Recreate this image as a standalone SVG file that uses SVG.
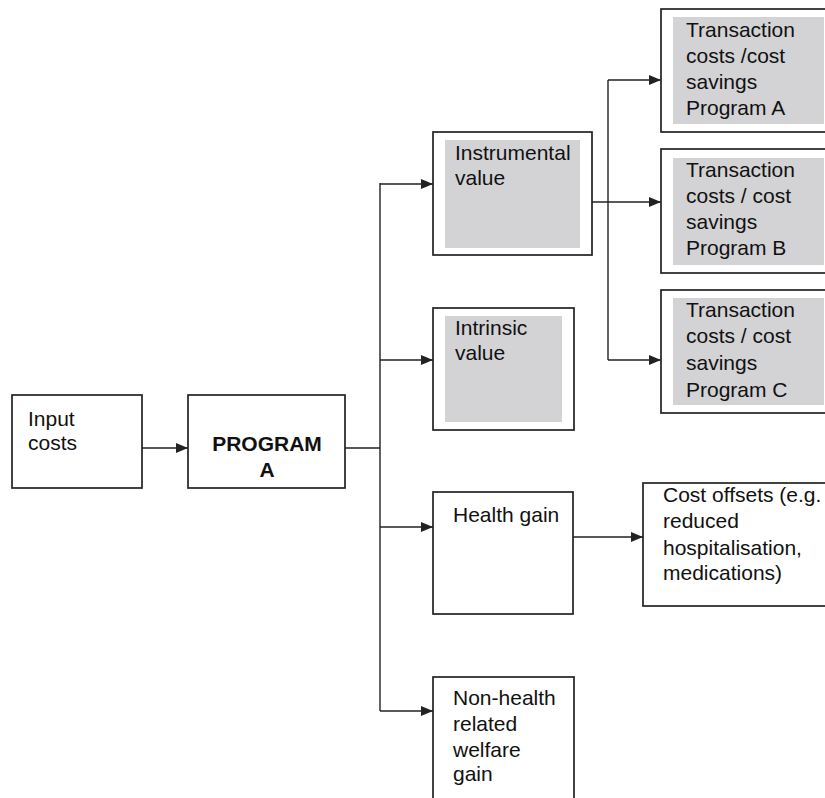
<svg xmlns="http://www.w3.org/2000/svg" width="825" height="798" viewBox="0 0 825 798">
<defs>
<style>
.box{fill:#fff;stroke:#222;stroke-width:1.7}
.shade{fill:#d3d3d5;stroke:none}
.t{font-family:"Liberation Sans",Arial,sans-serif;font-size:21px;fill:#111}
.b{font-weight:bold}
.c{fill:none;stroke:#222;stroke-width:1.4}
</style>
<marker id="ah" viewBox="0 0 12 10" refX="12" refY="5" markerWidth="12" markerHeight="10" markerUnits="userSpaceOnUse" orient="auto">
<path d="M0,0 L12,5 L0,10 Z" fill="#222"/>
</marker>
</defs>
<rect width="825" height="798" fill="#fff"/>
<g id="connectors">
<line class="c" x1="142" y1="448" x2="188" y2="448" marker-end="url(#ah)"/>
<polyline class="c" points="345,448 380,448"/>
<line class="c" x1="380" y1="183" x2="380" y2="711"/>
<line class="c" x1="380" y1="184" x2="433" y2="184" marker-end="url(#ah)"/>
<line class="c" x1="380" y1="360" x2="433" y2="360" marker-end="url(#ah)"/>
<line class="c" x1="380" y1="527" x2="433" y2="527" marker-end="url(#ah)"/>
<line class="c" x1="380" y1="711" x2="433" y2="711" marker-end="url(#ah)"/>
<line class="c" x1="592" y1="202" x2="661" y2="202" marker-end="url(#ah)"/>
<line class="c" x1="608" y1="80" x2="608" y2="360"/>
<line class="c" x1="608" y1="80" x2="661" y2="80" marker-end="url(#ah)"/>
<line class="c" x1="608" y1="360" x2="661" y2="360" marker-end="url(#ah)"/>
<line class="c" x1="573" y1="537" x2="643" y2="537" marker-end="url(#ah)"/>
</g>
<g id="input-costs">
<rect class="box" x="12" y="395" width="130" height="93"/>
<text class="t" x="28" y="426">Input</text>
<text class="t" x="28" y="450">costs</text>
</g>
<g id="program-a">
<rect class="box" x="188" y="395" width="157" height="93"/>
<text class="t b" x="267" y="451" text-anchor="middle">PROGRAM</text>
<text class="t b" x="267" y="477" text-anchor="middle">A</text>
</g>
<g id="instrumental">
<rect class="box" x="433" y="132" width="159" height="123"/>
<rect class="shade" x="445" y="140" width="135" height="108"/>
<text class="t" x="455" y="160">Instrumental</text>
<text class="t" x="455" y="185">value</text>
</g>
<g id="intrinsic">
<rect class="box" x="433" y="308" width="141" height="122"/>
<rect class="shade" x="445" y="316" width="117" height="106"/>
<text class="t" x="455" y="335">Intrinsic</text>
<text class="t" x="455" y="360">value</text>
</g>
<g id="health-gain">
<rect class="box" x="433" y="492" width="140" height="122"/>
<text class="t" x="453" y="522">Health gain</text>
</g>
<g id="non-health">
<rect class="box" x="433" y="677" width="141" height="130"/>
<text class="t" x="453" y="705">Non-health</text>
<text class="t" x="453" y="731">related</text>
<text class="t" x="453" y="757">welfare</text>
<text class="t" x="453" y="781">gain</text>
</g>
<g id="cost-offsets">
<rect class="box" x="643" y="483" width="190" height="123"/>
<text class="t" x="663" y="502">Cost offsets (e.g.</text>
<text class="t" x="663" y="528">reduced</text>
<text class="t" x="663" y="555">hospitalisation,</text>
<text class="t" x="663" y="580">medications)</text>
</g>
<g id="transaction-a">
<rect class="box" x="661" y="9" width="175" height="123"/>
<rect class="shade" x="673" y="17" width="151" height="107"/>
<text class="t" x="686" y="37">Transaction</text>
<text class="t" x="686" y="63">costs /cost</text>
<text class="t" x="686" y="89">savings</text>
<text class="t" x="686" y="115">Program A</text>
</g>
<g id="transaction-b">
<rect class="box" x="661" y="149" width="175" height="124"/>
<rect class="shade" x="673" y="158" width="151" height="107"/>
<text class="t" x="686" y="177">Transaction</text>
<text class="t" x="686" y="203">costs / cost</text>
<text class="t" x="686" y="229">savings</text>
<text class="t" x="686" y="255">Program B</text>
</g>
<g id="transaction-c">
<rect class="box" x="661" y="290" width="175" height="123"/>
<rect class="shade" x="673" y="298" width="151" height="107"/>
<text class="t" x="686" y="317">Transaction</text>
<text class="t" x="686" y="343">costs / cost</text>
<text class="t" x="686" y="370">savings</text>
<text class="t" x="686" y="397">Program C</text>
</g>
</svg>
